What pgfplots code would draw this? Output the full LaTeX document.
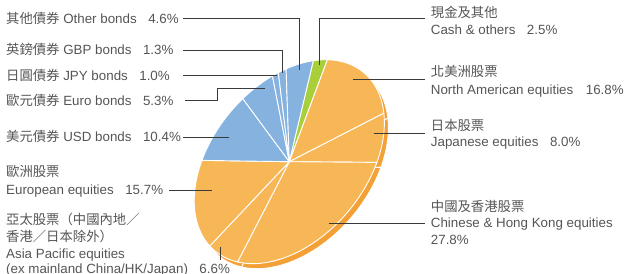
\documentclass[border=0pt]{standalone}
\usepackage{pgfplots}
\pgfplotsset{compat=1.18}
\usepackage{fontspec}
\setmainfont{Liberation Sans}
\newfontfamily\cjk{Noto Sans CJK TC}
\definecolor{pOrange}{HTML}{F8B757}
\definecolor{pOrangeD}{HTML}{F3A136}
\definecolor{pBlue}{HTML}{86B2E0}
\definecolor{pBlueD}{HTML}{6E9CCB}
\definecolor{pGreen}{HTML}{A8CF3A}
\definecolor{pGreenD}{HTML}{8DB52A}
\definecolor{txt}{HTML}{555555}
\definecolor{ldr}{HTML}{3A3A3A}

\def\cx{289.3}\def\cy{161.7}
\gdef\cum{0}
% #1 = percentage, #2 = colour, #3,#4 = offset (for the side)
\newcommand\slice[4]{%
  \pgfmathsetmacro\sa{\cum*3.6}%
  \pgfmathsetmacro\sb{(\cum+#1)*3.6}%
  \pgfmathsetmacro\px{\cx+#3}%
  \pgfmathsetmacro\py{\cy+#4}%
  \edef\tmp{\noexpand\addplot[fill=#2,draw=white,line width=0.9bp,line join=round,domain=\sa:\sb,samples=60]
    ({\px+24*cos(x)+92*sin(x)},{\py-101*cos(x)-14*sin(x)}) -- (axis cs:\px,\py) -- cycle;}%
  \tmp
  \pgfmathsetmacro\ncum{\cum+#1}\global\let\cum\ncum
}

\begin{document}
\begin{tikzpicture}
\useasboundingbox (0,0) rectangle (636bp,274bp);
\begin{axis}[at={(0,0)},anchor=south west,scale only axis,
  width=636bp,height=274bp,xmin=0,xmax=636,ymin=0,ymax=274,
  y dir=reverse,hide axis,clip=false]
% side (depth)
\gdef\cum{0}
\slice{2.5}{pGreenD}{4}{5}
\slice{16.8}{pOrangeD}{4}{5}
\slice{8.0}{pOrangeD}{4}{5}
\slice{27.8}{pOrangeD}{4}{5}
\slice{6.6}{pOrangeD}{4}{5}
\slice{15.7}{pOrangeD}{4}{5}
\slice{10.4}{pBlueD}{4}{5}
\slice{5.3}{pBlueD}{4}{5}
\slice{1.0}{pBlueD}{4}{5}
\slice{1.3}{pBlueD}{4}{5}
\slice{4.6}{pBlueD}{4}{5}
% top
\gdef\cum{0}
\slice{2.5}{pGreen}{0}{0}
\slice{16.8}{pOrange}{0}{0}
\slice{8.0}{pOrange}{0}{0}
\slice{27.8}{pOrange}{0}{0}
\slice{6.6}{pOrange}{0}{0}
\slice{15.7}{pOrange}{0}{0}
\slice{10.4}{pBlue}{0}{0}
\slice{5.3}{pBlue}{0}{0}
\slice{1.0}{pBlue}{0}{0}
\slice{1.3}{pBlue}{0}{0}
\slice{4.6}{pBlue}{0}{0}
% leader lines
\pgfplotsset{leader/.style={draw=ldr,solid,line width=1bp,no marks}}
\addplot[leader] coordinates {(183,19) (299,19) (299,70)};
\addplot[leader] coordinates {(183,51) (282,51) (282,73)};
\addplot[leader] coordinates {(183,75) (277,75)};
\addplot[leader] coordinates {(185,100) (217,100) (217,88) (265,88)};
\addplot[leader] coordinates {(183,137) (229,137)};
\addplot[leader] coordinates {(169,190) (212,190)};
\addplot[leader] coordinates {(220,247) (220,260)};
\addplot[leader] coordinates {(425,19) (319,19) (319,65)};
\addplot[leader] coordinates {(353,79) (425,79)};
\addplot[leader] coordinates {(374,133) (425,133)};
\addplot[leader] coordinates {(329,223) (425,223)};
% labels
\tikzset{lab/.style={anchor=base west,text=txt,inner sep=0pt,font=\fontsize{13.4}{16}\selectfont}}
\node[lab] at (axis cs:6,24) {{\cjk 其他債券} Other bonds\hspace{11.5bp}4.6\%};
\node[lab] at (axis cs:6,55) {{\cjk 英鎊債券} GBP bonds\hspace{11.5bp}1.3\%};
\node[lab] at (axis cs:6,80) {{\cjk 日圓債券} JPY bonds\hspace{11.5bp}1.0\%};
\node[lab] at (axis cs:6,105) {{\cjk 歐元債券} Euro bonds\hspace{11.5bp}5.3\%};
\node[lab] at (axis cs:6,141.5) {{\cjk 美元債券} USD bonds\hspace{11.5bp}10.4\%};
\node[lab] at (axis cs:6,176.5) {\cjk 歐洲股票};
\node[lab] at (axis cs:6,194) {European equities\hspace{11.5bp}15.7\%};
\node[lab] at (axis cs:6,224.5) {\cjk 亞太股票（中國內地／};
\node[lab] at (axis cs:6,241) {\cjk 香港／日本除外）};
\node[lab] at (axis cs:6,258) {Asia Pacific equities};
\node[lab] at (axis cs:6,273) {(ex mainland China/HK/Japan)\hspace{11.5bp}6.6\%};
\node[lab] at (axis cs:430.7,17.5) {\cjk 現金及其他};
\node[lab] at (axis cs:430.7,34.3) {Cash \& others\hspace{11.5bp}2.5\%};
\node[lab] at (axis cs:430.7,76.5) {\cjk 北美洲股票};
\node[lab] at (axis cs:430.7,94.3) {North American equities\hspace{12.5bp}16.8\%};
\node[lab] at (axis cs:430.7,130) {\cjk 日本股票};
\node[lab] at (axis cs:430.7,146.7) {Japanese equities\hspace{11.5bp}8.0\%};
\node[lab] at (axis cs:430.7,211.5) {\cjk 中國及香港股票};
\node[lab] at (axis cs:430.7,227.7) {Chinese \& Hong Kong equities};
\node[lab] at (axis cs:430.7,244) {27.8\%};
\end{axis}
\end{tikzpicture}
\end{document}
